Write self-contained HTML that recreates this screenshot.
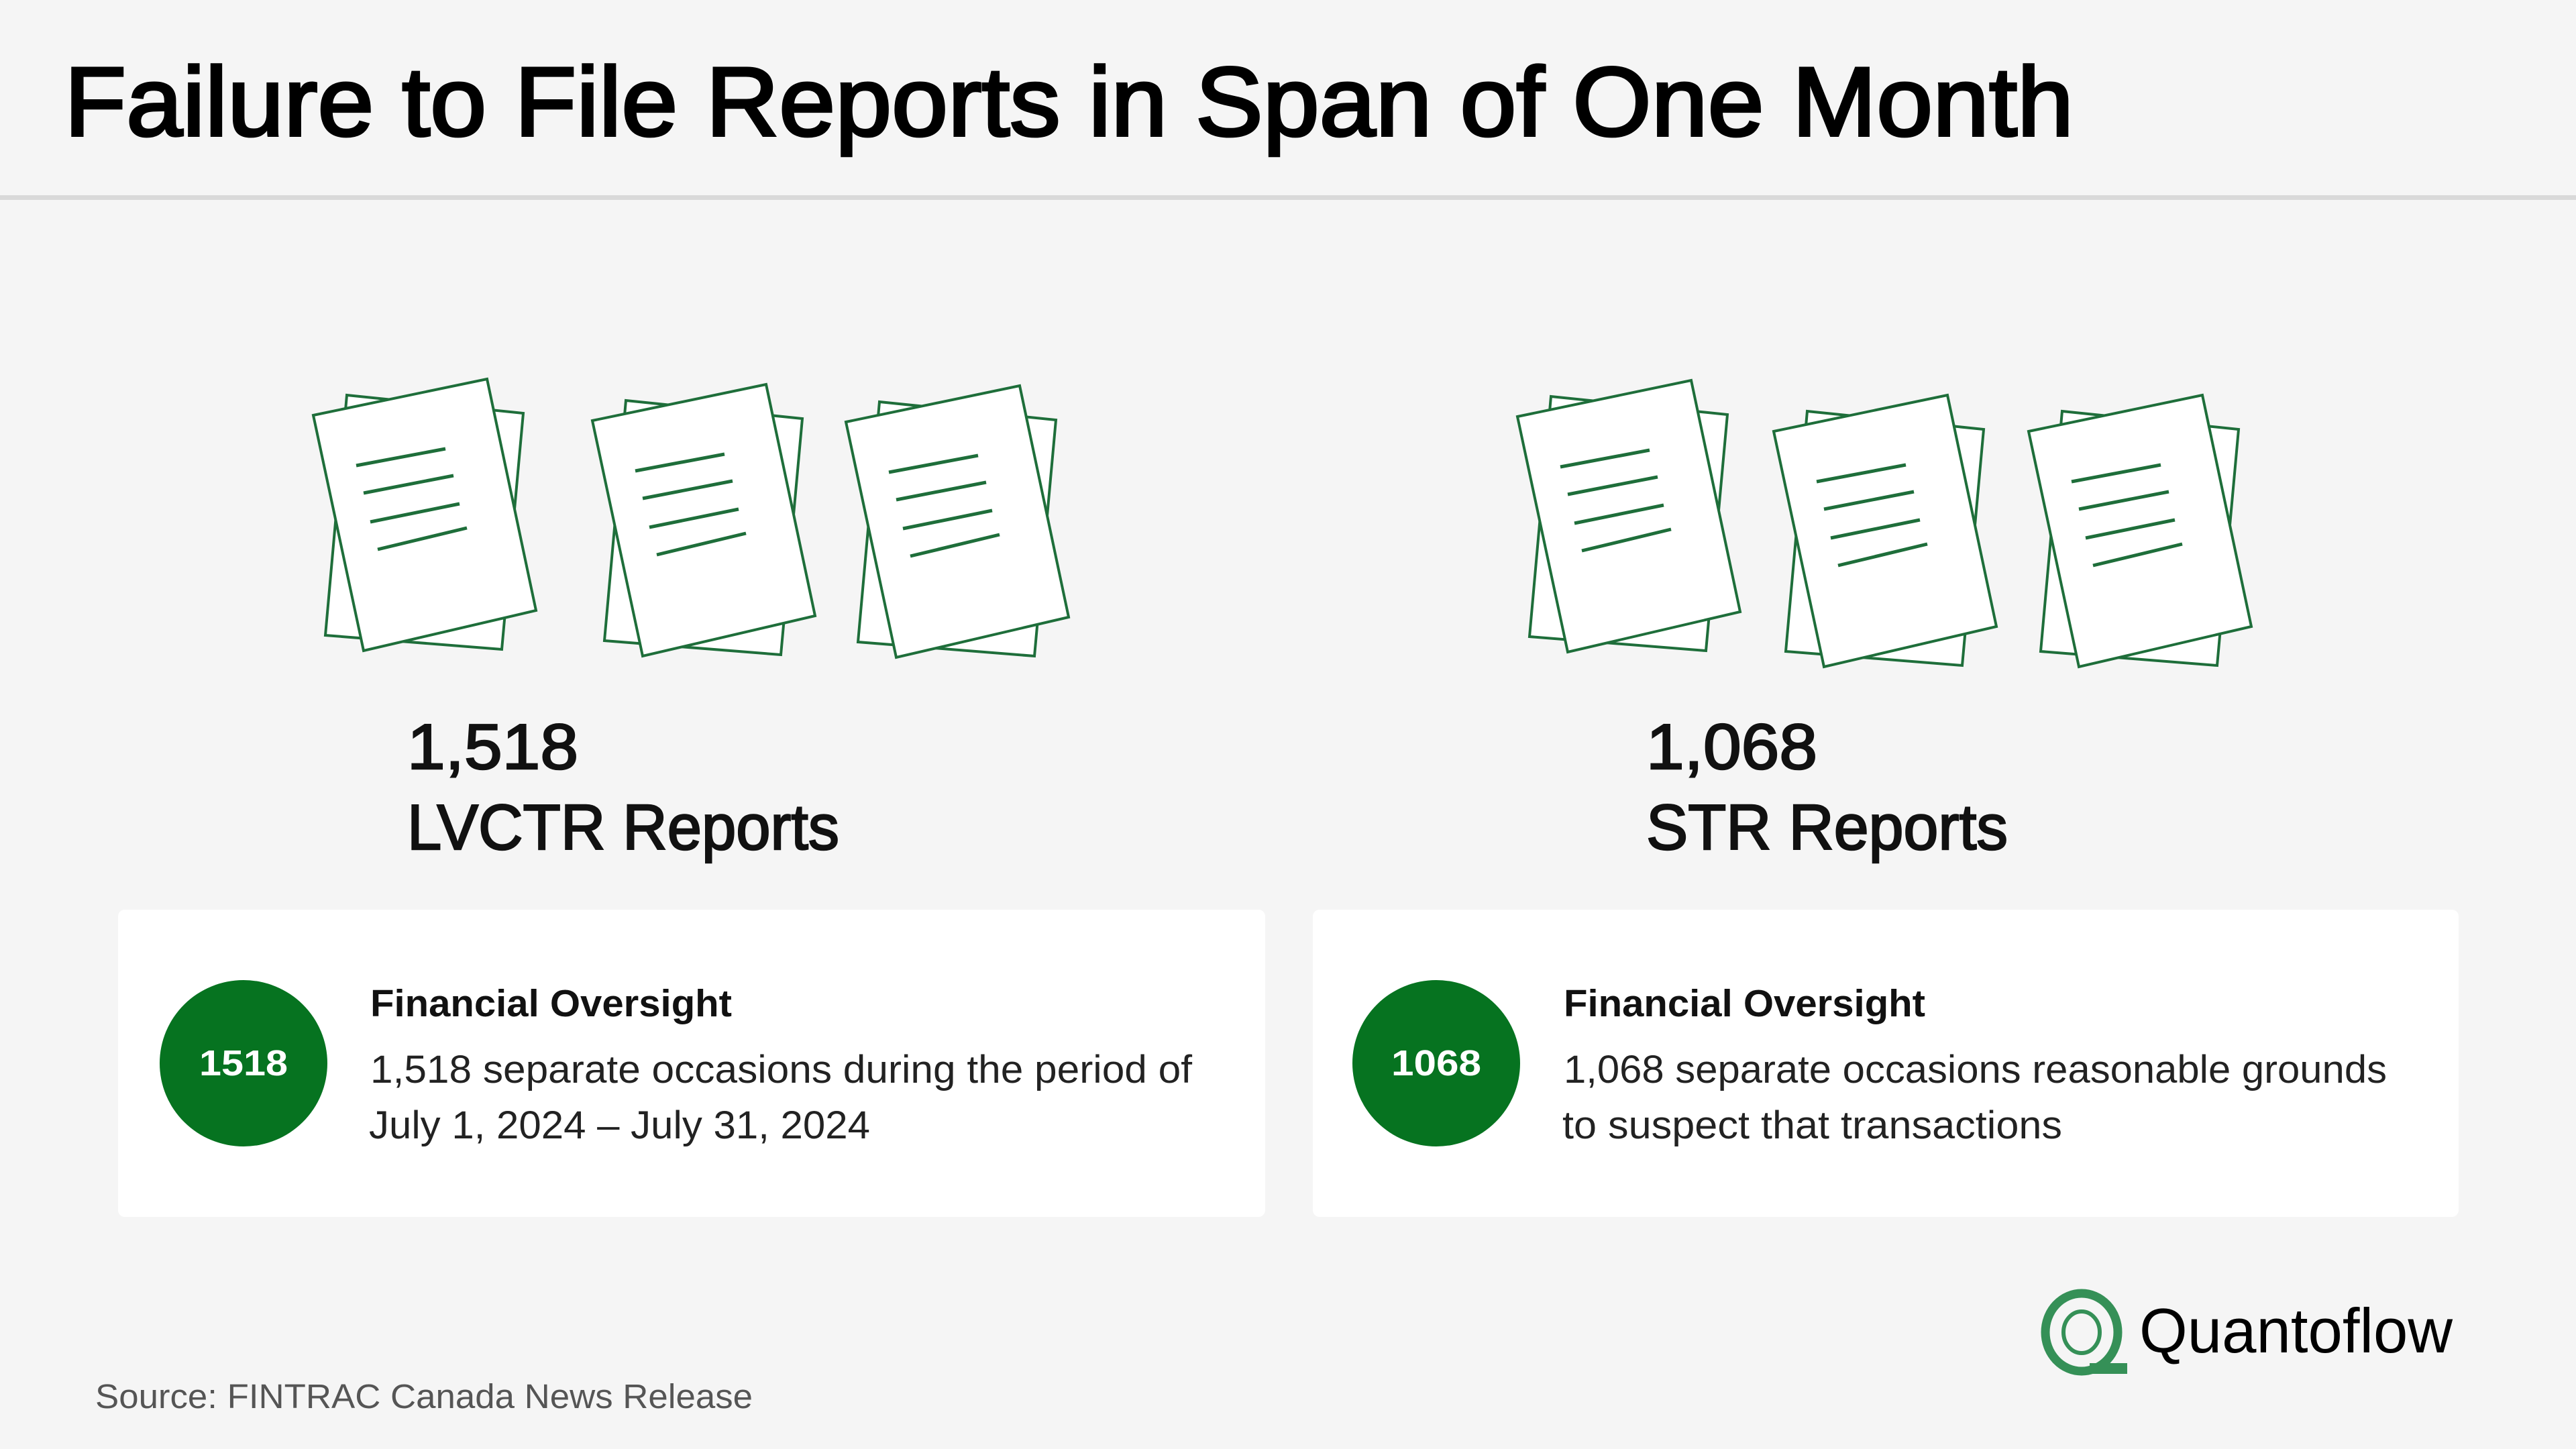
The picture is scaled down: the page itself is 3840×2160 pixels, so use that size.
<!DOCTYPE html>
<html><head><meta charset="utf-8"><style>
html,body{margin:0;padding:0;background:#f5f5f5;}
svg{display:block;}
text{font-family:"Liberation Sans",sans-serif;}
</style></head><body>
<svg width="3840" height="2160" viewBox="0 0 3840 2160" xmlns="http://www.w3.org/2000/svg">
<defs>
<g id="doc" fill="#fff" stroke="#1e6e3a" stroke-width="4" stroke-linejoin="miter">
<polygon points="517,589 780,616 748,968 485,947"/>
<polygon points="467,619 726,565 799,910 542,970"/>
<g stroke-width="5" fill="none">
<line x1="531" y1="694" x2="664" y2="669"/>
<line x1="542" y1="735" x2="676" y2="709"/>
<line x1="552" y1="778" x2="685" y2="751"/>
<line x1="563" y1="819" x2="696" y2="787"/>
</g>
</g>
</defs>
<rect width="3840" height="2160" fill="#f5f5f5"/>
<text x="96" y="202" font-size="146" fill="#000" stroke="#000" stroke-width="4" textLength="2995" lengthAdjust="spacingAndGlyphs">Failure to File Reports in Span of One Month</text>
<rect x="0" y="291" width="3840" height="7" fill="#d9d9d9"/>

<use href="#doc"/>
<use href="#doc" transform="translate(416,8)"/>
<use href="#doc" transform="translate(794,10)"/>
<use href="#doc" transform="translate(1795,2)"/>
<use href="#doc" transform="translate(2177,24)"/>
<use href="#doc" transform="translate(2557,24)"/>

<g stroke="#111" stroke-width="2.5">
<text x="607" y="1146" font-size="96" fill="#111" textLength="255" lengthAdjust="spacingAndGlyphs">1,518</text>
<text x="607" y="1266" font-size="96" fill="#111" textLength="644" lengthAdjust="spacingAndGlyphs">LVCTR Reports</text>
<text x="2454" y="1146" font-size="96" fill="#111" textLength="255" lengthAdjust="spacingAndGlyphs">1,068</text>
<text x="2454" y="1266" font-size="96" fill="#111" textLength="539" lengthAdjust="spacingAndGlyphs">STR Reports</text>
</g>

<rect x="176" y="1356" width="1710" height="458" rx="10" fill="#fff"/>
<rect x="1957" y="1356" width="1708" height="458" rx="10" fill="#fff"/>

<ellipse cx="363" cy="1585" rx="125" ry="124" fill="#067320"/>
<text x="363" y="1603" font-size="54" font-weight="bold" fill="#fff" text-anchor="middle" textLength="132" lengthAdjust="spacingAndGlyphs">1518</text>
<text x="552" y="1515" font-size="57" font-weight="bold" fill="#111" textLength="539" lengthAdjust="spacingAndGlyphs">Financial Oversight</text>
<text x="552" y="1614" font-size="58" fill="#222" textLength="1225" lengthAdjust="spacingAndGlyphs">1,518 separate occasions during the period of</text>
<text x="550" y="1697" font-size="58" fill="#222" textLength="747" lengthAdjust="spacingAndGlyphs">July 1, 2024 – July 31, 2024</text>

<ellipse cx="2141" cy="1585" rx="125" ry="124" fill="#067320"/>
<text x="2141" y="1603" font-size="54" font-weight="bold" fill="#fff" text-anchor="middle" textLength="134" lengthAdjust="spacingAndGlyphs">1068</text>
<text x="2331" y="1515" font-size="57" font-weight="bold" fill="#111" textLength="539" lengthAdjust="spacingAndGlyphs">Financial Oversight</text>
<text x="2331" y="1614" font-size="58" fill="#222" textLength="1227" lengthAdjust="spacingAndGlyphs">1,068 separate occasions reasonable grounds</text>
<text x="2329" y="1697" font-size="58" fill="#222" textLength="745" lengthAdjust="spacingAndGlyphs">to suspect that transactions</text>

<text x="142" y="2099" font-size="51" fill="#555" textLength="980" lengthAdjust="spacingAndGlyphs">Source: FINTRAC Canada News Release</text>

<g fill="none" stroke="#359057">
<ellipse cx="3103" cy="1986" rx="54" ry="58" stroke-width="13"/>
<ellipse cx="3103" cy="1986" rx="27" ry="31" stroke-width="6"/>
</g>
<rect x="3115" y="2032" width="56" height="16" fill="#359057"/>
<text x="3189" y="2016" font-size="94" fill="#000" textLength="467" lengthAdjust="spacingAndGlyphs">Quantoflow</text>
</svg>
</body></html>
